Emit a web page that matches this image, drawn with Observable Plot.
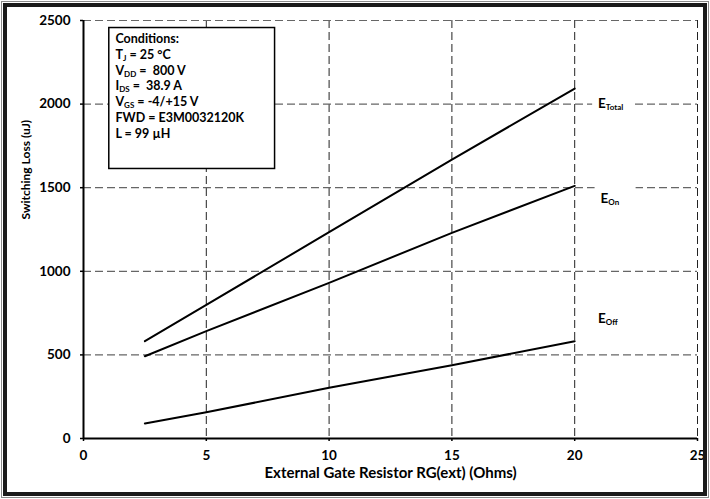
<!DOCTYPE html>
<html>
<head>
<meta charset="utf-8">
<script src="https://cdn.jsdelivr.net/npm/d3@7"></script>
<script src="https://cdn.jsdelivr.net/npm/@observablehq/plot@0.6"></script>
<style>
  html, body { margin: 0; padding: 0; background: white; overflow: hidden; }
  #wrap { position: relative; width: 710px; height: 499px; }
  #wrap svg { display: block; }
  .b1 { position: absolute; left: 1px; top: 1px; width: 708px; height: 497px; box-sizing: border-box; border: 1px solid #8a8a8a; pointer-events: none; }
  .b2 { position: absolute; left: 3px; top: 3px; width: 704px; height: 493px; box-sizing: border-box; border: 4px solid #1a1a1a; pointer-events: none; }
</style>
</head>
<body>
<div id="wrap"></div>
<script>
// ---- data ----
const rg     = [2.5, 5, 10, 15, 20];
const eOn    = [492, 642, 931, 1230, 1511];
const eOff   = [90, 157, 303, 438, 582];
const eTotal = [582, 799, 1234, 1668, 2093];

const xTicks = [0, 5, 10, 15, 20, 25];
const yTicks = [0, 500, 1000, 1500, 2000, 2500];

const xTitle = "External Gate Resistor RG(ext) (Ohms)";
const yTitle = "Switching Loss (uJ)";

const conditionLines = [
  "Conditions:",
  "T_{J} = 25 °C",
  "V_{DD} =  800 V",
  "I_{DS} =  38.9 A",
  "V_{GS} = -4/+15 V",
  "FWD = E3M0032120K",
  "L = 99 µH"
];
const conditionsBox = [{x1: 1.05, x2: 7.8, y1: 1612, y2: 2455, tx: 1.3, ty: 2434}];

const seriesLabels = [
  {text: "E_{Total}", x: 20.95, y: 2004},
  {text: "E_{On}",    x: 21.05, y: 1436},
  {text: "E_{Off}",   x: 20.95, y: 718}
];

const rows = [];
rg.forEach((r, i) => {
  rows.push({rg: r, e: eTotal[i], s: "Total"});
  rows.push({rg: r, e: eOn[i], s: "On"});
  rows.push({rg: r, e: eOff[i], s: "Off"});
});

const chart = Plot.plot({
  width: 710,
  height: 499,
  marginLeft: 83,
  marginRight: 13,
  marginTop: 20,
  marginBottom: 61,
  style: {fontFamily: "Lato", fontWeight: "bold", fontSize: "13px", background: "white", color: "black"},
  x: {domain: [0, 25]},
  y: {domain: [0, 2500]},
  marks: [
    Plot.gridX(xTicks.filter(d => d > 0), {stroke: "#222", strokeOpacity: 1, strokeWidth: 1, strokeDasharray: "8,4"}),
    Plot.gridY(yTicks.filter(d => d > 0), {stroke: "#666", strokeOpacity: 1, strokeWidth: 1.2, strokeDasharray: "8,4"}),
    Plot.rect(conditionsBox, {x1: "x1", x2: "x2", y1: "y1", y2: "y2", fill: "white", stroke: "black", strokeWidth: 1.5}),
    Plot.text(conditionsBox, {x: "tx", y: "ty", text: () => conditionLines.join("\n"), textAnchor: "start", lineAnchor: "top", lineHeight: 1.27, fontSize: 12.5, fontWeight: "bold"}),
    Plot.rect(seriesLabels, {x1: d => d.x - 0.22, x2: d => d.x + 1.45, y1: d => d.y - 90, y2: d => d.y + 110, fill: "white"}),
    Plot.text(seriesLabels, {x: "x", y: "y", text: "text", textAnchor: "start", fontSize: 13.5, fontWeight: "bold"}),
    Plot.line(rows, {x: "rg", y: "e", z: "s", stroke: "black", strokeWidth: 2}),
    Plot.ruleX([0], {stroke: "black", strokeWidth: 2}),
    Plot.ruleY([0], {stroke: "black", strokeWidth: 2}),
    Plot.axisY({ticks: yTicks, tickFormat: d => String(d), tickSize: 3, tickPadding: 10, label: null, fontSize: 13.5, fontWeight: "bold", strokeWidth: 1.5}),
    Plot.axisX({ticks: xTicks, tickFormat: d => String(d), tickSize: 3, tickPadding: 9, label: null, fontSize: 13.5, fontWeight: "bold", strokeWidth: 1.5}),
    Plot.text([xTitle], {frameAnchor: "bottom", dy: 39, fontSize: 15, fontWeight: "bold"}),
    Plot.text([yTitle], {frameAnchor: "left", rotate: -90, dx: -57, dy: -10, fontSize: 12, fontWeight: "bold"})
  ]
});

// Convert "_{...}" markup into subscript tspans
function applySubscripts(svg) {
  const ns = "http://www.w3.org/2000/svg";
  const targets = [...svg.querySelectorAll("text, tspan")].filter(el =>
    el.children.length === 0 && el.textContent.includes("_{"));
  targets.forEach(el => {
    const s = el.textContent;
    el.textContent = "";
    const re = /_\{([^}]*)\}/g;
    let last = 0, m, shifted = false;
    while ((m = re.exec(s))) {
      if (m.index > last) {
        const t = document.createElementNS(ns, "tspan");
        if (shifted) { t.setAttribute("dy", "-2"); shifted = false; }
        t.textContent = s.slice(last, m.index);
        el.appendChild(t);
      }
      const sub = document.createElementNS(ns, "tspan");
      sub.setAttribute("dy", "2");
      sub.setAttribute("font-size", "8");
      sub.textContent = m[1];
      el.appendChild(sub);
      shifted = true;
      last = re.lastIndex;
    }
    if (last < s.length) {
      const t = document.createElementNS(ns, "tspan");
      if (shifted) { t.setAttribute("dy", "-2"); shifted = false; }
      t.textContent = s.slice(last);
      el.appendChild(t);
    }
  });
}
applySubscripts(chart);

const wrap = document.getElementById("wrap");
wrap.appendChild(chart);
const b1 = document.createElement("div"); b1.className = "b1"; wrap.appendChild(b1);
const b2 = document.createElement("div"); b2.className = "b2"; wrap.appendChild(b2);
</script>
</body>
</html>
